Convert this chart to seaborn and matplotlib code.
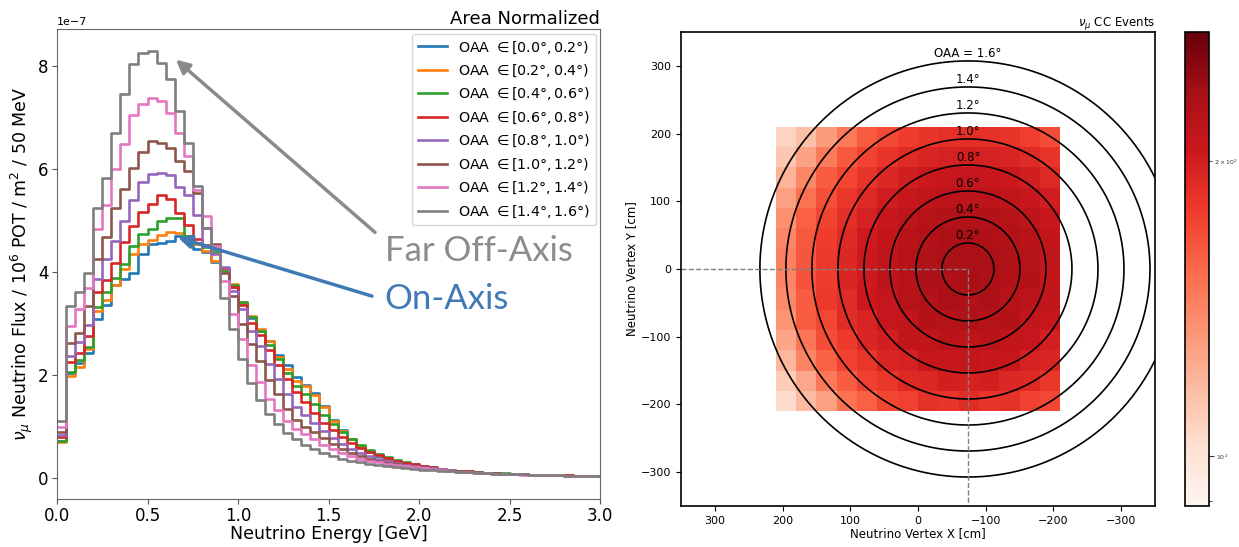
import numpy as np
import pandas as pd
import matplotlib
matplotlib.use("Agg")
import matplotlib.pyplot as plt
import seaborn as sns
from matplotlib.colors import LogNorm
from matplotlib.lines import Line2D

# ---------------- data: left panel (flux, units of 1e-7) ----------------
bin_edges = [round(0.05 * i, 3) for i in range(61)]

series_labels = [r"OAA $\in[0.0°, 0.2°)$", r"OAA $\in[0.2°, 0.4°)$",
                 r"OAA $\in[0.4°, 0.6°)$", r"OAA $\in[0.6°, 0.8°)$",
                 r"OAA $\in[0.8°, 1.0°)$", r"OAA $\in[1.0°, 1.2°)$",
                 r"OAA $\in[1.2°, 1.4°)$", r"OAA $\in[1.4°, 1.6°)$"]

flux_00_02 = [0.72, 2.03, 2.22, 2.43, 3.08, 3.35, 3.75, 3.87, 3.98, 4.34,
              4.55, 4.57, 4.60, 4.69, 4.66, 4.45, 4.38, 4.20, 4.00, 3.70,
              3.40, 3.10, 2.85, 2.65, 2.38, 2.18, 1.95, 1.80, 1.65, 1.40,
              1.12, 0.92, 0.74, 0.60, 0.50, 0.42, 0.36, 0.31, 0.27, 0.24,
              0.21, 0.18, 0.16, 0.145, 0.13, 0.115, 0.105, 0.095, 0.085, 0.077,
              0.070, 0.063, 0.057, 0.052, 0.047, 0.043, 0.040, 0.037, 0.034, 0.031]
flux_02_04 = [0.70, 1.98, 2.16, 2.50, 3.24, 3.45, 3.75, 4.05, 4.35, 4.55,
              4.62, 4.72, 4.78, 4.76, 4.70, 4.55, 4.40, 4.22, 4.02, 3.76,
              3.41, 3.14, 2.88, 2.65, 2.35, 2.12, 1.88, 1.78, 1.60, 1.37,
              1.10, 0.90, 0.74, 0.61, 0.51, 0.43, 0.37, 0.32, 0.28, 0.25,
              0.22, 0.19, 0.165, 0.148, 0.132, 0.118, 0.106, 0.096, 0.087, 0.078,
              0.071, 0.064, 0.058, 0.053, 0.048, 0.044, 0.040, 0.037, 0.034, 0.031]
flux_04_06 = [0.72, 2.05, 2.29, 2.53, 3.31, 3.60, 3.88, 4.15, 4.50, 4.73,
              4.83, 5.00, 5.04, 5.04, 4.70, 4.57, 4.48, 4.38, 4.02, 3.75,
              3.41, 3.12, 2.86, 2.58, 2.30, 2.03, 1.78, 1.62, 1.43, 1.22,
              1.04, 0.88, 0.75, 0.63, 0.53, 0.45, 0.39, 0.34, 0.30, 0.26,
              0.23, 0.20, 0.172, 0.152, 0.135, 0.12, 0.108, 0.097, 0.087, 0.079,
              0.071, 0.064, 0.058, 0.053, 0.048, 0.044, 0.040, 0.037, 0.034, 0.031]
flux_06_08 = [0.78, 2.24, 2.43, 2.76, 3.60, 3.85, 4.18, 4.58, 4.89, 5.16,
              5.33, 5.49, 5.41, 5.14, 4.91, 4.65, 4.52, 4.45, 4.07, 3.70,
              3.36, 3.00, 2.78, 2.48, 2.18, 1.92, 1.66, 1.46, 1.26, 1.07,
              0.92, 0.79, 0.67, 0.57, 0.49, 0.43, 0.38, 0.33, 0.29, 0.26,
              0.23, 0.20, 0.17, 0.15, 0.133, 0.118, 0.106, 0.095, 0.086, 0.078,
              0.070, 0.063, 0.057, 0.052, 0.047, 0.043, 0.040, 0.037, 0.034, 0.031]
flux_08_10 = [0.82, 2.37, 2.63, 2.97, 3.87, 4.25, 4.60, 5.00, 5.40, 5.75,
              5.90, 5.93, 5.88, 5.65, 5.50, 5.10, 4.50, 4.35, 4.09, 3.62,
              3.27, 2.85, 2.55, 2.21, 1.92, 1.62, 1.38, 1.22, 1.06, 0.91,
              0.77, 0.65, 0.55, 0.47, 0.41, 0.36, 0.32, 0.28, 0.25, 0.22,
              0.20, 0.18, 0.16, 0.142, 0.127, 0.113, 0.102, 0.092, 0.083, 0.075,
              0.068, 0.062, 0.056, 0.051, 0.046, 0.042, 0.039, 0.036, 0.033, 0.030]
flux_10_12 = [0.88, 2.62, 2.82, 3.33, 4.26, 4.67, 5.25, 5.61, 6.03, 6.33,
              6.54, 6.51, 6.42, 6.16, 5.96, 5.54, 4.85, 4.55, 3.98, 3.53,
              2.99, 2.60, 2.26, 1.89, 1.63, 1.33, 1.12, 0.99, 0.88, 0.77,
              0.66, 0.56, 0.48, 0.42, 0.37, 0.33, 0.29, 0.26, 0.23, 0.21,
              0.19, 0.17, 0.15, 0.135, 0.121, 0.109, 0.098, 0.089, 0.080, 0.073,
              0.066, 0.060, 0.055, 0.050, 0.045, 0.041, 0.038, 0.035, 0.032, 0.030]
flux_12_14 = [0.98, 2.94, 3.28, 3.68, 4.83, 5.31, 6.00, 6.48, 7.06, 7.26,
              7.39, 7.32, 7.09, 6.70, 6.25, 5.60, 5.09, 4.50, 3.82, 3.18,
              2.70, 2.18, 1.85, 1.52, 1.32, 1.10, 0.94, 0.84, 0.74, 0.64,
              0.55, 0.48, 0.42, 0.37, 0.33, 0.30, 0.27, 0.24, 0.22, 0.20,
              0.18, 0.16, 0.145, 0.13, 0.117, 0.105, 0.095, 0.086, 0.078, 0.071,
              0.065, 0.059, 0.054, 0.049, 0.045, 0.041, 0.038, 0.035, 0.032, 0.030]
flux_14_16 = [1.10, 3.33, 3.60, 3.97, 5.25, 5.82, 6.70, 7.46, 8.05, 8.26,
              8.29, 8.06, 7.76, 7.13, 6.51, 5.67, 4.86, 4.45, 3.50, 2.89,
              2.30, 1.84, 1.50, 1.24, 1.04, 0.87, 0.74, 0.64, 0.56, 0.48,
              0.42, 0.36, 0.33, 0.30, 0.27, 0.25, 0.23, 0.21, 0.19, 0.17,
              0.155, 0.14, 0.13, 0.12, 0.11, 0.10, 0.092, 0.085, 0.078, 0.072,
              0.066, 0.060, 0.055, 0.050, 0.046, 0.042, 0.039, 0.036, 0.033, 0.030]

all_flux = [flux_00_02, flux_02_04, flux_04_06, flux_06_08,
            flux_08_10, flux_10_12, flux_12_14, flux_14_16]
line_colors = sns.color_palette("tab10", 8)

# ---------------- data: right panel (CC event counts) ----------------
cell_x = [195, 165, 135, 105, 75, 45, 15, -15, -45, -75, -105, -135, -165, -195]
cell_y = [195, 165, 135, 105, 75, 45, 15, -15, -45, -75, -105, -135, -165, -195]
event_counts = [
    [107, 116, 131, 148, 162, 171, 178, 183, 186, 187, 186, 183, 177, 170],
    [113, 128, 146, 163, 174, 183, 190, 195, 198, 199, 198, 195, 190, 183],
    [121, 140, 161, 173, 184, 193, 200, 206, 209, 210, 209, 206, 200, 192],
    [129, 151, 168, 181, 192, 202, 209, 214, 217, 218, 217, 214, 208, 201],
    [136, 160, 174, 187, 198, 208, 215, 221, 223, 224, 223, 221, 215, 207],
    [141, 163, 178, 191, 203, 212, 220, 224, 228, 228, 227, 224, 220, 211],
    [144, 165, 180, 193, 205, 214, 222, 226, 229, 230, 229, 226, 221, 213],
    [142, 167, 178, 195, 203, 216, 220, 228, 227, 232, 228, 224, 223, 211],
    [139, 161, 180, 189, 205, 210, 222, 223, 230, 226, 229, 222, 218, 213],
    [134, 162, 172, 189, 196, 210, 213, 223, 221, 226, 221, 223, 213, 209],
    [127, 149, 170, 179, 194, 200, 211, 212, 219, 216, 219, 212, 210, 199],
    [119, 142, 159, 175, 182, 195, 198, 208, 207, 212, 207, 208, 198, 194],
    [111, 126, 148, 161, 176, 181, 192, 193, 200, 197, 200, 193, 192, 181],
    [104, 118, 129, 150, 160, 173, 176, 185, 184, 189, 184, 185, 175, 172],
]
cell_size = 30
oaa_angles = [0.2, 0.4, 0.6, 0.8, 1.0, 1.2, 1.4, 1.6]
baseline_cm = 11000.0
beam_x = -73.78
color_min, color_max = 89, 271

# ---------------- figure ----------------
fig = plt.figure(figsize=(12.39, 5.47), dpi=100)

# Left panel
axL = fig.add_axes([0.046, 0.088, 0.4383, 0.8584])
edges_arr = np.array(bin_edges)
centers = (edges_arr[:-1] + edges_arr[1:]) / 2
for lab, vals, col in zip(series_labels, all_flux, line_colors):
    df = pd.DataFrame({"energy": centers, "flux": np.array(vals) * 1e-7})
    sns.histplot(data=df, x="energy", weights="flux", bins=bin_edges,
                 element="step", fill=False, color=col, linewidth=1.9,
                 ax=axL, legend=False)
axL.set_xlim(0, 3.0)
axL.set_ylim(-0.415e-7, 8.72e-7)
axL.set_yticks(np.array([0, 2, 4, 6, 8]) * 1e-7)
axL.set_xlabel("Neutrino Energy [GeV]", fontsize=12.5, labelpad=0)
axL.set_ylabel(r"$\nu_\mu$ Neutrino Flux / $10^6$ POT / m$^2$ / 50 MeV",
               fontsize=12.5, labelpad=2)
axL.tick_params(labelsize=12, color="#555555", pad=2.5)
axL.yaxis.get_offset_text().set_fontsize(8)
for sp in axL.spines.values():
    sp.set_color("#666666")
axL.set_title("Area Normalized", loc="right", fontsize=13, pad=4)
handles = [Line2D([0], [0], color=c, lw=1.9) for c in line_colors]
axL.legend(handles, series_labels, loc="upper right", fontsize=10.3,
           borderaxespad=0.3, handlelength=2.0)

# annotations
axL.annotate("", xy=(0.657, 8.13e-7), xytext=(1.757, 4.77e-7),
             arrowprops=dict(arrowstyle="-|>", color="#8a8a8a", lw=2.5,
                             mutation_scale=20, shrinkA=0, shrinkB=0))
axL.annotate("", xy=(0.668, 4.67e-7), xytext=(1.74, 3.53e-7),
             arrowprops=dict(arrowstyle="-|>", color="#3f7ab5", lw=2.5,
                             mutation_scale=20, shrinkA=0, shrinkB=0))
axL.text(1.81, 4.40e-7, "Far Off-Axis", fontsize=25, color="#8c8c8c",
         family="Lato", va="center", ha="left")
axL.text(1.81, 3.47e-7, "On-Axis", fontsize=25, color="#3f7ab5",
         family="Lato", va="center", ha="left")

# Right panel
axR = fig.add_axes([0.5496, 0.0750, 0.3826, 0.8665])
cax = fig.add_axes([0.9564, 0.0750, 0.0194, 0.8665])
xe = np.concatenate([[cell_x[0] + cell_size / 2], np.array(cell_x) - cell_size / 2])
ye = np.concatenate([[cell_y[0] + cell_size / 2], np.array(cell_y) - cell_size / 2])
mesh = axR.pcolormesh(xe, ye, np.array(event_counts), cmap="Reds",
                      norm=LogNorm(vmin=color_min, vmax=color_max))
cb = fig.colorbar(mesh, cax=cax)
cb.ax.tick_params(which="both", labelsize=4.5, colors="#333333", pad=1.5)
cb.outline.set_linewidth(1.2)

theta = np.linspace(0, 2 * np.pi, 721)
for a in oaa_angles:
    r = baseline_cm * np.tan(np.deg2rad(a))
    axR.plot(beam_x + r * np.cos(theta), r * np.sin(theta), color="black", lw=1.2)
    lab = f"OAA = {a:.1f}°" if a == oaa_angles[-1] else f"{a:.1f}°"
    axR.text(beam_x, r + 1, lab, ha="center", va="bottom", fontsize=8.5)

axR.plot([350, beam_x], [0, 0], ls="--", color="gray", lw=1)
axR.plot([beam_x, beam_x], [0, -350], ls="--", color="gray", lw=1)
axR.set_xlim(350, -350)
axR.set_ylim(-350, 350)
axR.set_xticks([300, 200, 100, 0, -100, -200, -300])
axR.set_yticks([-300, -200, -100, 0, 100, 200, 300])
axR.tick_params(labelsize=8)
axR.set_xlabel("Neutrino Vertex X [cm]", fontsize=8.5, labelpad=1)
axR.set_ylabel("Neutrino Vertex Y [cm]", fontsize=8.5, labelpad=2)
axR.set_title(r"$\nu_\mu$ CC Events", loc="right", fontsize=8.5, pad=4)
for sp in axR.spines.values():
    sp.set_linewidth(1.2)

fig.savefig("out.png", dpi=100)
